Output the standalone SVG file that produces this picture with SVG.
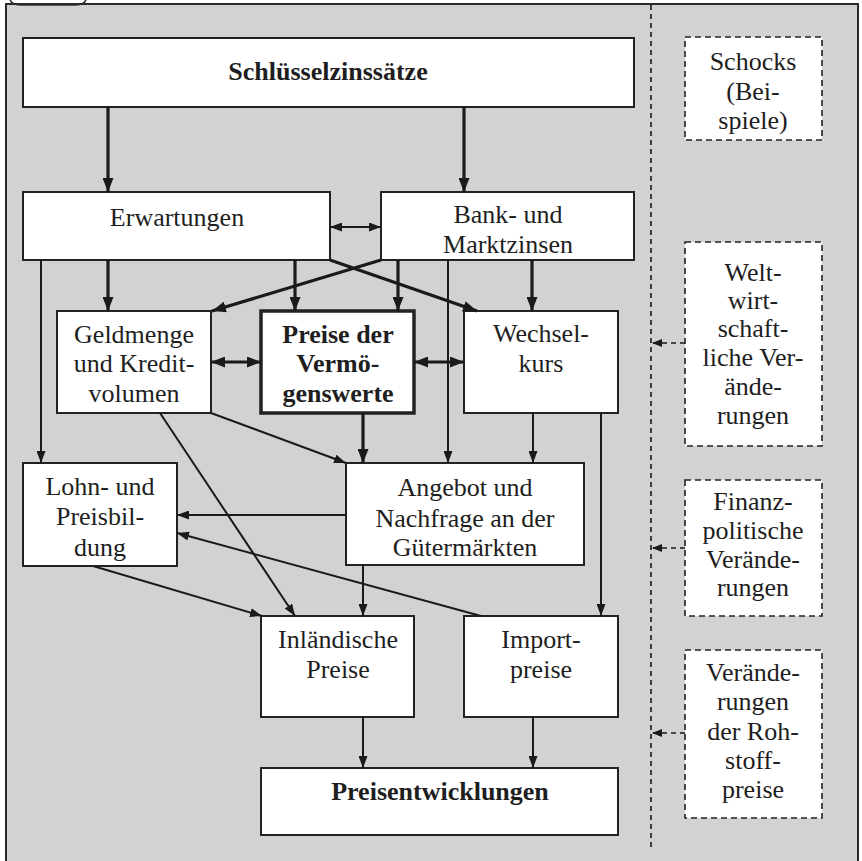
<svg xmlns="http://www.w3.org/2000/svg" width="862" height="861" viewBox="0 0 862 861">
<style>
.bg{fill:#d2d2d2;stroke:#2a2a2a;stroke-width:2}
.box{fill:#ffffff;stroke:#222;stroke-width:2}
.boxb{fill:#ffffff;stroke:#222;stroke-width:3.5}
.dbox{fill:#ffffff;stroke:#222;stroke-width:1.6;stroke-dasharray:6 4}
text{font-family:"Liberation Serif","Times New Roman",serif;font-size:26px;fill:#1e1e1e;text-anchor:middle}
.b{font-weight:bold}
.thk{fill:none;stroke:#1a1a1a;stroke-width:3.2}
.thn{fill:none;stroke:#1a1a1a;stroke-width:2}
.dsh{fill:none;stroke:#1a1a1a;stroke-width:1.6;stroke-dasharray:5 4}
</style>
<defs>
<marker id="at" viewBox="0 0 14 11" refX="14" refY="5.5" markerWidth="14" markerHeight="11" markerUnits="userSpaceOnUse" orient="auto-start-reverse"><path d="M0,0 L14,5.5 L0,11 z" fill="#1a1a1a"/></marker>
<marker id="an" viewBox="0 0 12 9" refX="12" refY="4.5" markerWidth="12" markerHeight="9" markerUnits="userSpaceOnUse" orient="auto-start-reverse"><path d="M0,0 L12,4.5 L0,9 z" fill="#1a1a1a"/></marker>
<marker id="ad" viewBox="0 0 10 8" refX="10" refY="4" markerWidth="10" markerHeight="8" markerUnits="userSpaceOnUse" orient="auto"><path d="M0,0 L10,4 L0,8 z" fill="#1a1a1a"/></marker>
<clipPath id="cBank"><rect x="381" y="192" width="253" height="66"/></clipPath>
<clipPath id="cPreise"><rect x="261" y="311" width="153" height="100"/></clipPath>
<clipPath id="cLohn"><rect x="23" y="463" width="154" height="101"/></clipPath>
<clipPath id="cSchocks"><rect x="685" y="37" width="137" height="101"/></clipPath>
</defs>

<rect class="bg" x="6" y="4" width="852" height="880"/>
<path d="M10 0 Q12 5 22 5 L74 5 Q84 5 86 0" fill="none" stroke="#2a2a2a" stroke-width="1.5"/>
<line class="dsh" x1="651" y1="5" x2="651" y2="850"/>

<g id="schluesselzinssaetze"><rect class="box" x="23" y="38" width="611" height="69"/><text class="b" x="328" y="80">Schlüsselzinssätze</text></g>
<g id="erwartungen"><rect class="box" x="23" y="192" width="307" height="68"/><text x="177" y="226">Erwartungen</text></g>
<g id="bankzinsen"><rect class="box" x="381" y="192" width="253" height="68"/><g clip-path="url(#cBank)"><text x="508" y="223">Bank- und</text><text x="508" y="253">Marktzinsen</text></g></g>
<g id="geldmenge"><rect class="box" x="57" y="311" width="154" height="102"/><text x="134" y="343">Geldmenge</text><text x="134" y="372">und Kredit-</text><text x="134" y="402">volumen</text></g>
<g id="vermoegenspreise"><rect class="boxb" x="261" y="311" width="153" height="102"/><g clip-path="url(#cPreise)"><text class="b" x="338" y="343">Preise der</text><text class="b" x="338" y="372">Vermö-</text><text class="b" x="338" y="402">genswerte</text></g></g>
<g id="wechselkurs"><rect class="box" x="464" y="311" width="154" height="102"/><text x="541" y="342">Wechsel-</text><text x="541" y="372">kurs</text></g>
<g id="lohnpreis"><rect class="box" x="23" y="463" width="154" height="103"/><g clip-path="url(#cLohn)"><text x="100" y="495">Lohn- und</text><text x="100" y="525">Preisbil-</text><text x="100" y="556">dung</text></g></g>
<g id="angebotnachfrage"><rect class="box" x="346" y="463" width="238" height="102"/><text x="465" y="496">Angebot und</text><text x="465" y="527">Nachfrage an der</text><text x="465" y="556">Gütermärkten</text></g>
<g id="inlandpreise"><rect class="box" x="261" y="616" width="153" height="101"/><text x="338" y="648">Inländische</text><text x="338" y="678">Preise</text></g>
<g id="importpreise"><rect class="box" x="464" y="616" width="154" height="101"/><text x="541" y="648">Import-</text><text x="541" y="678">preise</text></g>
<g id="preisentwicklungen"><rect class="box" x="261" y="768" width="357" height="67"/><text class="b" x="440" y="800">Preisentwicklungen</text></g>

<g id="schocks"><rect class="dbox" x="685" y="37" width="137" height="103"/><g clip-path="url(#cSchocks)"><text x="753" y="70">Schocks</text><text x="753" y="100">(Bei-</text><text x="753" y="129">spiele)</text></g></g>
<g id="weltwirtschaft"><rect class="dbox" x="685" y="242" width="137" height="204"/><text x="753" y="281">Welt-</text><text x="753" y="309">wirt-</text><text x="753" y="337">schaft-</text><text x="753" y="366">liche Ver-</text><text x="753" y="395">ände-</text><text x="753" y="424">rungen</text></g>
<g id="finanzpolitik"><rect class="dbox" x="685" y="480" width="137" height="136"/><text x="753" y="510">Finanz-</text><text x="753" y="539">politische</text><text x="753" y="568">Verände-</text><text x="753" y="596">rungen</text></g>
<g id="rohstoffpreise"><rect class="dbox" x="685" y="650" width="137" height="168"/><text x="753" y="681">Verände-</text><text x="753" y="710">rungen</text><text x="753" y="740">der Roh-</text><text x="753" y="769">stoff-</text><text x="753" y="798">preise</text></g>

<g id="connectors">
<path class="thk" d="M108 107 V192" marker-end="url(#at)"/>
<path class="thk" d="M464 107 V192" marker-end="url(#at)"/>
<path class="thk" d="M108 260 V311" marker-end="url(#at)"/>
<path class="thk" d="M295 260 V311" marker-end="url(#at)"/>
<path class="thk" d="M398 260 V311" marker-end="url(#at)"/>
<path class="thk" d="M532 260 V311" marker-end="url(#at)"/>
<path class="thk" d="M381 260 L212 311" marker-end="url(#at)"/>
<path class="thk" d="M330 260 L477 311" marker-end="url(#at)"/>
<path class="thk" d="M211 362 H261" marker-start="url(#at)" marker-end="url(#at)"/>
<path class="thk" d="M414 362 H464" marker-start="url(#at)" marker-end="url(#at)"/>
<path class="thk" d="M363 413 V463" marker-end="url(#at)"/>
<path class="thn" d="M330 227 H381" marker-start="url(#an)" marker-end="url(#an)"/>
<path class="thn" d="M211 413 L346 463" marker-end="url(#an)"/>
<path class="thn" d="M533 413 V463" marker-end="url(#an)"/>
<path class="thn" d="M448 260 V463" marker-end="url(#an)"/>
<path class="thn" d="M41 260 V463" marker-end="url(#an)"/>
<path class="thn" d="M601 413 V616" marker-end="url(#an)"/>
<path class="thn" d="M346 515 H177" marker-end="url(#an)"/>
<path class="thn" d="M481 616 L177 533" marker-end="url(#an)"/>
<path class="thn" d="M160 413 L295 616" marker-end="url(#an)"/>
<path class="thn" d="M93 566 L262 616" marker-end="url(#an)"/>
<path class="thn" d="M363 565 V616" marker-end="url(#an)"/>
<path class="thn" d="M363 717 V768" marker-end="url(#an)"/>
<path class="thn" d="M533 717 V768" marker-end="url(#an)"/>
<path class="dsh" d="M685 343 H652" marker-end="url(#ad)"/>
<path class="dsh" d="M685 548 H652" marker-end="url(#ad)"/>
<path class="dsh" d="M685 733 H652" marker-end="url(#ad)"/>
</g>
</svg>
